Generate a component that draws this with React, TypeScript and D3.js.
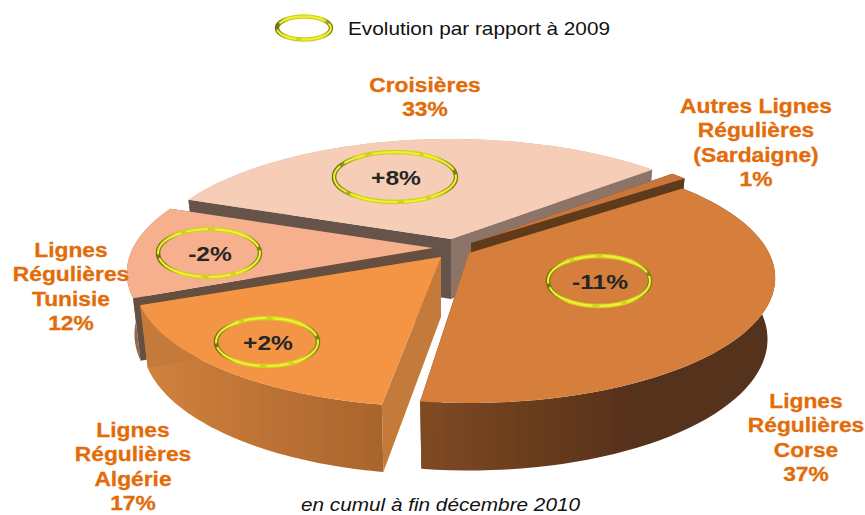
import { useMemo } from 'react'
import * as d3 from 'd3'

const WIDTH = 865
const HEIGHT = 515

const CATEGORIES = ['Croisières', 'Autres Lignes Régulières (Sardaigne)', 'Lignes Régulières Corse', 'Lignes Régulières Algérie', 'Lignes Régulières Tunisie']
const SHARES = [33, 1, 37, 17, 12]
const EVOLUTIONS = ['+8%', '', '-11%', '+2%', '-2%']

const LABEL_LINES = [
  ['Croisières', '33%'],
  ['Autres Lignes', 'Régulières', '(Sardaigne)', '1%'],
  ['Lignes', 'Régulières', 'Corse', '37%'],
  ['Lignes', 'Régulières', 'Algérie', '17%'],
  ['Lignes', 'Régulières', 'Tunisie', '12%'],
]

// look of each slice, same order as CATEGORIES. nudge = small angle fix in degrees (the original pie is not quite regular)
const SLICE_STYLE = [
  { apex: [451, 239], top: '#f6cdb7', wallA: '#66524a', wallB: '#8c7468', rimA: '#e0c0ae', rimB: '#c9a894', nudge: [0, 0] },
  { apex: [471, 243], top: '#c8763a', wallA: '#5e3a1c', wallB: '#5e3a1c', rimA: '#5e3a1c', rimB: '#5e3a1c', nudge: [0, 0] },
  { apex: [469, 253], top: '#d67f3c', wallA: '#7f4a22', wallB: '#7f4a22', rimA: '#7f4a22', rimB: '#55301a', nudge: [0, 1.4] },
  { apex: [441, 257], top: '#f39545', wallA: '#c47a3a', wallB: '#c47a3a', rimA: '#d2823e', rimB: '#a8642c', nudge: [3, 0.8] },
  { apex: [433, 248], top: '#f6b08e', wallA: '#66503f', wallB: '#66503f', rimA: '#8c6a50', rimB: '#8c6a50', nudge: [0, 0] },
]
const DRAW_ORDER = [0, 4, 1, 2, 3]

const LABEL_POS = [
  { x: 425, y: 92 },
  { x: 756, y: 113 },
  { x: 806, y: 408 },
  { x: 133, y: 437 },
  { x: 71, y: 257 },
]
const RINGS = [
  { x: 395, y: 177, rx: 61, ry: 25 },
  null,
  { x: 599, y: 281, rx: 51, ry: 25 },
  { x: 267, y: 342, rx: 51, ry: 24 },
  { x: 209, y: 253, rx: 51, ry: 24 },
]

const RX = 300
const RY = 120
const PERSP = 0.2
const DEPTH = 60

// ground plane to screen, with the perspective of the tilted pie
function project(apex: number[], a: number, r = 1, low = false) {
  const gx = r * Math.sin(a)
  const gy = -r * Math.cos(a)
  const s = 1 / (1 - PERSP * gy)
  if (low) return [apex[0] + RX * 0.975 * gx * s, apex[1] + RY * 0.97 * gy * s + DEPTH * (1 + (s - 1) * 0.8)]
  return [apex[0] + RX * gx * s, apex[1] + RY * gy * s]
}

function Ring({ x, y, rx, ry }: { x: number; y: number; rx: number; ry: number }) {
  return (
    <g>
      <ellipse cx={x} cy={y} rx={rx} ry={ry} fill="none" stroke="url(#ringGrad)" strokeWidth={4.5} />
      <ellipse cx={x} cy={y} rx={rx} ry={ry} fill="none" stroke="#f0f038" strokeWidth={2} strokeDasharray="34 5 22 7 48 4" />
    </g>
  )
}

export default function App() {
  const slices = useMemo(() => {
    const pie = d3.pie<number>().sort(null).startAngle(-69.5 * Math.PI / 180).endAngle((360 - 69.5) * Math.PI / 180)
    return pie(SHARES)
  }, [])
  const line = d3.line()

  return (
    <svg width={WIDTH} height={HEIGHT} style={{ position: 'absolute', left: 0, top: 0, fontFamily: '"Liberation Sans", Arial, sans-serif' }}>
      <defs>
        <linearGradient id="ringGrad" x1="0" x2="1" y1="0" y2="0">
          <stop offset="0" stopColor="#6f7010" />
          <stop offset="0.2" stopColor="#cfcf1e" />
          <stop offset="0.82" stopColor="#d4d420" />
          <stop offset="1" stopColor="#7d7e14" />
        </linearGradient>
        <filter id="soft" x="-5%" y="-5%" width="110%" height="110%">
          <feGaussianBlur stdDeviation="0.6" />
        </filter>
        {SLICE_STYLE.map((st, i) => (
          <linearGradient key={i} id={`rim${i}`} gradientUnits="userSpaceOnUse" x1={i === 2 ? 420 : 140} x2={i === 2 ? 640 : 385} y1="0" y2="0">
            <stop offset="0" stopColor={st.rimA} />
            <stop offset="1" stopColor={st.rimB} />
          </linearGradient>
        ))}
      </defs>

      <g filter="url(#soft)">
        {DRAW_ORDER.map(i => {
          const d = slices[i]
          const st = SLICE_STYLE[i]
          const a0 = d.startAngle + st.nudge[0] * Math.PI / 180
          const a1 = d.endAngle + st.nudge[1] * Math.PI / 180
          const angles = d3.range(0, 61).map(k => a0 + (a1 - a0) * k / 60)
          const rimTop = angles.map(a => project(st.apex, a) as [number, number])
          const rimLow = angles.map(a => project(st.apex, a, 1, true) as [number, number])
          const apexLow = project(st.apex, 0, 0, true) as [number, number]
          const apexTop = st.apex as [number, number]
          const topPath = line([apexTop, ...rimTop])! + 'Z'
          const rimPath = line([...rimTop, ...rimLow.slice().reverse()])! + 'Z'
          const startWall = line([apexTop, rimTop[0], rimLow[0], apexLow])! + 'Z'
          const endWall = line([apexTop, rimTop[60], rimLow[60], apexLow])! + 'Z'
          return (
            <g key={CATEGORIES[i]}>
              <path d={rimPath} fill={`url(#rim${i})`} />
              <path d={startWall} fill={st.wallA} />
              <path d={endWall} fill={st.wallB} />
              <path d={topPath} fill={st.top} />
            </g>
          )
        })}
      </g>

      {RINGS.map((r, i) => r && (
        <g key={i}>
          <Ring {...r} />
          <text transform={`translate(${r.x + 1},${r.y + 8}) scale(1.17,1)`} textAnchor="middle" fontSize={21} fontWeight={700} fill="#262626">{EVOLUTIONS[i]}</text>
        </g>
      ))}

      {LABEL_LINES.map((lines, i) => (
        <g key={i} fill="#e36c0a" stroke="#e36c0a" strokeWidth={0.3} fontSize={21} fontWeight={700} textAnchor="middle">
          {lines.map((t, k) => (
            <text key={k} transform={`translate(${LABEL_POS[i].x},${LABEL_POS[i].y + k * 24.3}) scale(1.085,1)`}>{t}</text>
          ))}
        </g>
      ))}

      <Ring x={304} y={28} rx={27} ry={11.5} />
      <text x={348} y={35} fontSize={18.5} fill="#111" textLength={262} lengthAdjust="spacingAndGlyphs">Evolution par rapport à 2009</text>
      <text x={301} y={511} fontSize={19} fontStyle="italic" fill="#111" textLength={279} lengthAdjust="spacingAndGlyphs">en cumul à fin décembre 2010</text>
    </svg>
  )
}
